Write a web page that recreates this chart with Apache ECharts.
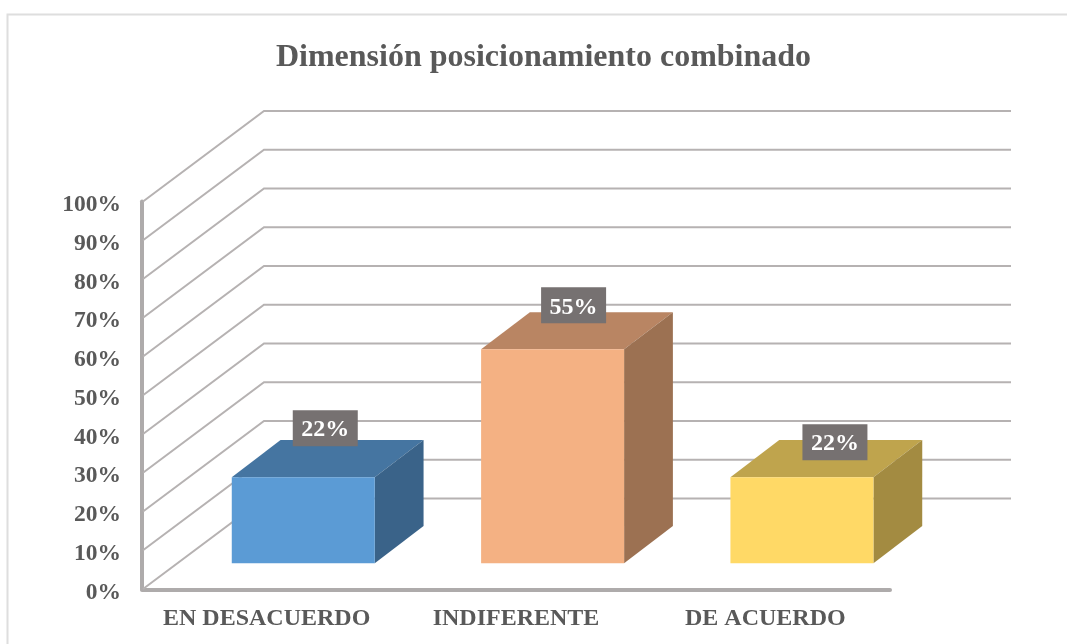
<!DOCTYPE html>
<html>
<head>
<meta charset="utf-8">
<style>
  html, body { margin: 0; padding: 0; background: #fff; }
  #chart { width: 1067px; height: 644px; }
</style>
<script src="https://cdn.jsdelivr.net/npm/echarts@6/dist/echarts.min.js"></script>
</head>
<body>
<div id="chart"></div>
<script>
const categories = ['EN DESACUERDO', 'INDIFERENTE', 'DE ACUERDO']
const values = [22.2, 55.2, 22.2]
const yTicks = [0, 10, 20, 30, 40, 50, 60, 70, 80, 90, 100]

const frontColors = ['#5b9bd5', '#f4b183', '#ffd966']
const topColors = ['#4575a1', '#b98563', '#bfa44d']
const sideColors = ['#3a6389', '#9c7152', '#a38b41']

const serif = '"Liberation Serif", serif'
// profundidad del piso 3D en pixeles
const depthX = 122
const depthY = -90.5
// los labels estan movidos a mano en el original
const labelShift = [[22, -49], [21, -44], [33, -35]]

function renderWall(params, api) {
  const grid = params.coordSys
  const p = api.coord([0, api.value(0)])
  const x0 = grid.x + 1
  return {
    type: 'polyline',
    shape: {
      points: [
        [x0, p[1]],
        [grid.x + depthX, p[1] + depthY],
        [grid.x + depthX + grid.width - 1, p[1] + depthY],
      ],
    },
    style: { stroke: '#b6b2b2', lineWidth: 2, fill: null },
  }
}

function renderBar(params, api) {
  const i = api.value(0)
  const band = api.size([1, 0])[0]
  const w = band * 0.5735
  const center = api.coord([i, 0])
  const top = api.coord([i, api.value(1)])
  // la barra arranca a 0.3 de la profundidad y ocupa 0.4
  const left = center[0] - w / 2 + depthX * 0.3
  const right = left + w
  const bottom = center[1] + depthY * 0.285
  const yTop = top[1] + depthY * 0.285
  const dx = depthX * 0.4
  const dy = depthY * 0.41
  const lx = left + w / 2 + labelShift[i][0]
  const ly = yTop + labelShift[i][1]
  return {
    type: 'group',
    children: [
      {
        type: 'polygon',
        shape: { points: [[left, yTop], [left + dx, yTop + dy], [right + dx, yTop + dy], [right, yTop]] },
        style: { fill: topColors[i] },
      },
      {
        type: 'polygon',
        shape: { points: [[right, yTop], [right + dx, yTop + dy], [right + dx, bottom + dy], [right, bottom]] },
        style: { fill: sideColors[i] },
      },
      {
        type: 'rect',
        shape: { x: left, y: yTop, width: w, height: bottom - yTop },
        style: { fill: frontColors[i] },
      },
      {
        type: 'rect',
        shape: { x: lx - 32.5, y: ly - 18, width: 65, height: 36 },
        style: { fill: '#767171' },
      },
      {
        type: 'text',
        style: {
          x: lx,
          y: ly + 2,
          text: Math.round(api.value(1) - 0.2) + '%',
          fill: '#fff',
          font: 'bold 24px ' + serif,
          align: 'center',
          verticalAlign: 'middle',
        },
      },
    ],
  }
}

const chart = echarts.init(document.getElementById('chart'))
chart.setOption({
  animation: false,
  backgroundColor: '#fff',
  title: {
    text: 'Dimensión posicionamiento combinado',
    left: 538.5,
    top: 37,
    textAlign: 'center',
    textStyle: { color: '#595959', fontFamily: serif, fontWeight: 'bold', fontSize: 32 },
  },
  grid: { left: 142, right: 177, top: 201.5, bottom: 55 },
  xAxis: {
    type: 'category',
    data: categories,
    offset: 1,
    axisTick: { show: false },
    axisLine: { onZero: false, lineStyle: { color: '#aeabab', width: 4, cap: 'round' } },
    axisLabel: { interval: 0, color: '#595959', fontFamily: serif, fontWeight: 'bold', fontSize: 24, margin: 17 },
  },
  yAxis: {
    type: 'value',
    min: 0,
    max: 100,
    interval: 10,
    splitLine: { show: false },
    axisTick: { show: false },
    axisLine: { show: true, lineStyle: { color: '#aeabab', width: 4 } },
    axisLabel: {
      color: '#595959',
      fontFamily: serif,
      fontWeight: 'bold',
      fontSize: 23.5,
      margin: 21,
      verticalAlign: 'top',
      lineHeight: 7,
      formatter: '{value}%',
    },
  },
  series: [
    {
      type: 'custom',
      coordinateSystem: 'cartesian2d',
      encode: { y: 0 },
      data: yTicks.map((v) => [v]),
      renderItem: renderWall,
      silent: true,
      z: 1,
    },
    {
      type: 'custom',
      coordinateSystem: 'cartesian2d',
      encode: { x: 0, y: 1 },
      data: values.map((v, i) => [i, v]),
      renderItem: renderBar,
      z: 3,
    },
  ],
  graphic: [
    {
      type: 'polyline',
      shape: { points: [[7.5, 644], [7.5, 14.5], [1067, 14.5]] },
      style: { stroke: '#dedede', lineWidth: 2, fill: null },
    },
  ],
})
</script>
</body>
</html>
